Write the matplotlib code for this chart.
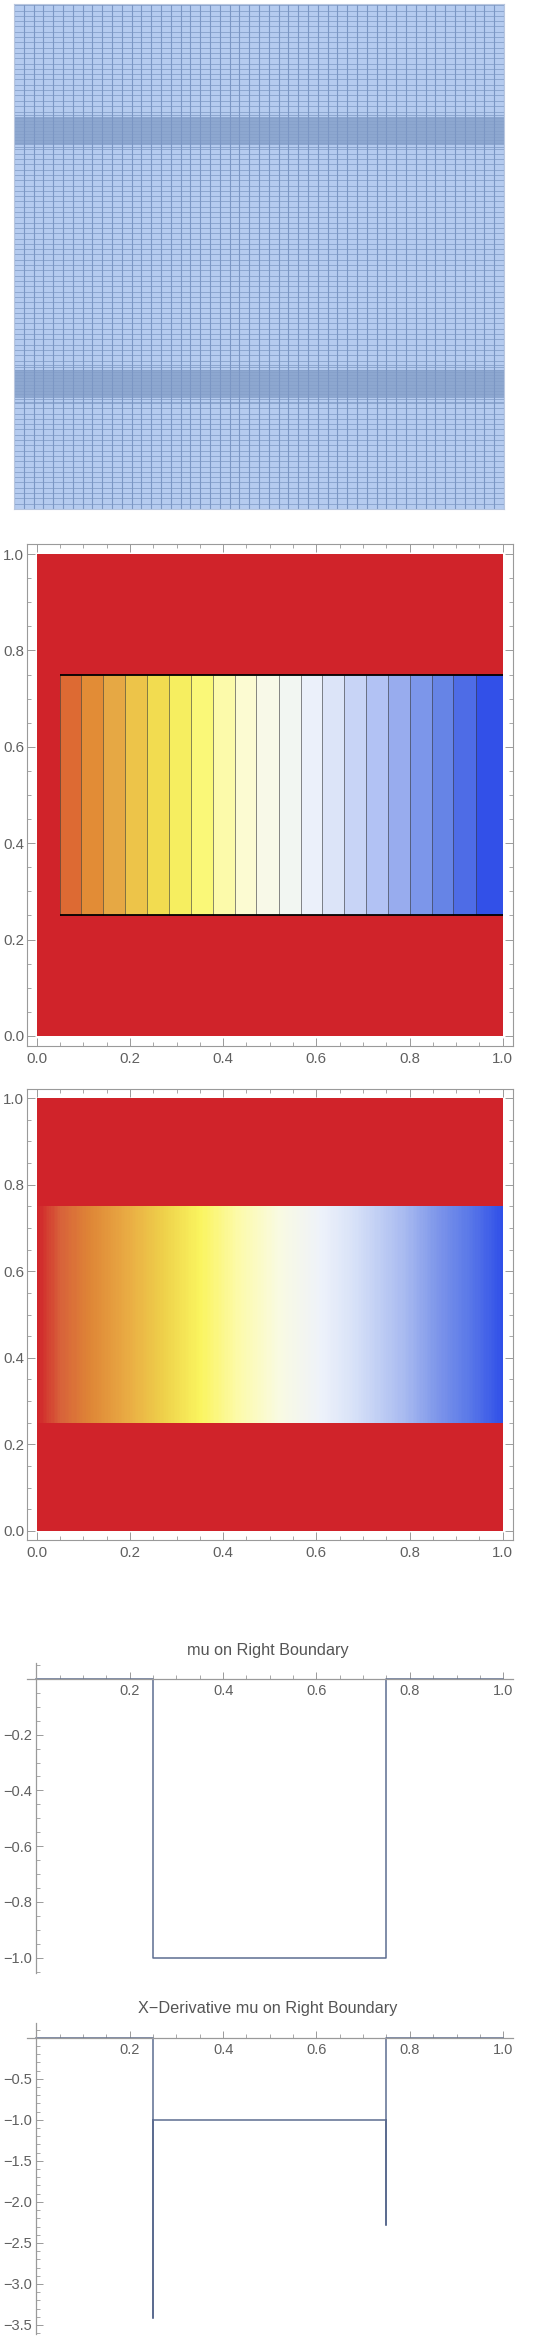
import numpy as np
import matplotlib
matplotlib.use('Agg')
from matplotlib import pyplot as plt
from matplotlib.colors import LinearSegmentedColormap
from matplotlib.ticker import MultipleLocator, FixedLocator, FuncFormatter

plt.rcParams['font.family'] = ['Liberation Sans', 'DejaVu Sans']

# ---- data ----
domain = [0.0, 1.0]
strip_y = [0.25, 0.75]

# mesh description
mesh_cols = 50
mesh_dy_coarse = 0.0105
mesh_dy_grade = 0.005
mesh_dy_band = 0.0015
band_centers = [0.25, 0.75]
band_half = 0.026
grade_half = 0.038

# mu inside the strip, left and right ends
mu_strip_x = [0.0, 1.0]
mu_strip = [0.0, -1.0]

# contour levels (where the band edges sit)
contour_levels = [-0.049, -0.095, -0.143, -0.190, -0.237, -0.284, -0.331, -0.378,
                  -0.426, -0.471, -0.519, -0.566, -0.612, -0.660, -0.707, -0.753,
                  -0.800, -0.848, -0.894, -0.942]
# band colours, from the red (mu near 0) band to the blue (mu near -1) band
band_colors = ['#D0232A', '#DD6A33', '#E28C36', '#E6A844', '#EDC449', '#F2DC50',
               '#F6EE60', '#FAF878', '#FCFAAA', '#FCFBD2', '#F8F9E8', '#F2F6F2',
               '#EBF0FA', '#DCE4F8', '#C8D4F6', '#B2C2F4', '#98ACEE', '#7C96EA',
               '#6684E6', '#4E6CE6', '#3250E8']

# density colour scale (mu value -> colour)
dens_mu = [0.0, -0.05, -0.11, -0.2, -0.27, -0.35, -0.43, -0.52, -0.61, -0.68,
           -0.79, -0.86, -0.93, -1.0]
dens_colors = ['#D0242A', '#D8623A', '#DE8436', '#EAAE44', '#EED04A', '#FAF45E',
               '#FCFAA8', '#F9FAE2', '#EEF2FA', '#D8E2F8', '#A8BAF0', '#7E96EA',
               '#5A78E8', '#3050E8']

# mu on right boundary
rb_y = [0.0, 0.25, 0.25, 0.75, 0.75, 1.0]
rb_mu = [0.0, 0.0, -1.0, -1.0, 0.0, 0.0]

# x-derivative of mu on right boundary
rbd_y = [0.0, 0.25, 0.25, 0.25, 0.75, 0.75, 0.75, 1.0]
rbd_dmu = [0.0, 0.0, -3.41, -1.0, -1.0, -2.28, 0.0, 0.0]

red = band_colors[0]
line_color = '#5d6d91'
frame_color = '#9a9a9a'
label_color = '#606060'

W, H = 540, 2337
fig = plt.figure(figsize=(W / 100, H / 100), dpi=100)


def box(x0, y0, x1, y1):
    return [x0 / W, 1 - y1 / H, (x1 - x0) / W, (y1 - y0) / H]


fmt = FuncFormatter(lambda v, p: ('%.1f' % v).replace('-', '\u2212'))

# ---- panel 1: mesh ----
ax = fig.add_axes(box(14, 4, 504, 509))
ax.set_xlim(domain)
ax.set_ylim(domain)
ax.set_facecolor('#b5cbef')
xs = np.linspace(domain[0], domain[1], mesh_cols + 1)
ys = list(np.arange(domain[0], domain[1], mesh_dy_coarse))
ys = [y for y in ys if min(abs(y - c) for c in band_centers) > grade_half]
for c in band_centers:
    ys += list(np.arange(c - grade_half, c - band_half, mesh_dy_grade))
    ys += list(np.arange(c + band_half, c + grade_half, mesh_dy_grade))
    ys += list(np.arange(c - band_half, c + band_half, mesh_dy_band))
ax.hlines(ys, domain[0], domain[1], color='#86a0cb', lw=0.6)
ax.vlines(xs, domain[0], domain[1], color='#7b96c4', lw=0.8)
ax.set_xticks([])
ax.set_yticks([])
for s in ax.spines.values():
    s.set_color('#b8c6de')
    s.set_linewidth(0.8)


def frame(ax):
    ax.set_xlim(-0.021, 1.022)
    ax.set_ylim(-0.021, 1.021)
    ax.set_xticks([0, 0.2, 0.4, 0.6, 0.8, 1.0])
    ax.set_yticks([0, 0.2, 0.4, 0.6, 0.8, 1.0])
    ax.xaxis.set_minor_locator(MultipleLocator(0.05))
    ax.yaxis.set_minor_locator(MultipleLocator(0.05))
    ax.xaxis.set_major_formatter(fmt)
    ax.yaxis.set_major_formatter(fmt)
    ax.tick_params(which='both', direction='in', top=True, right=True,
                   color=frame_color, labelcolor=label_color, labelsize=10.8)
    ax.tick_params(which='major', length=5.5, width=0.7)
    ax.tick_params(which='minor', length=3, width=0.6)
    ax.tick_params(axis='x', pad=4)
    ax.tick_params(axis='y', pad=2)
    for s in ax.spines.values():
        s.set_color(frame_color)
        s.set_linewidth(0.8)


Xs, Ys = np.meshgrid(mu_strip_x, strip_y)
Z = np.array([mu_strip, mu_strip])

# ---- panel 2: contour plot ----
ax = fig.add_axes(box(27, 544, 513, 1046))
frame(ax)
ax.fill_between(domain, domain[0], domain[1], color=red, lw=0)
lev = [mu_strip[1] - 0.001] + sorted(contour_levels) + [mu_strip[0] + 0.001]
ax.contourf(Xs, Ys, Z, levels=lev, colors=band_colors[::-1], antialiased=False)
ax.contour(Xs, Ys, Z, levels=sorted(contour_levels), colors='#3a3a3a',
           linewidths=0.6, alpha=0.7, linestyles='solid')
ax.hlines(strip_y, -contour_levels[0], domain[1], color='black', lw=1.3)

# ---- panel 3: density plot ----
ax = fig.add_axes(box(27, 1089, 513, 1540))
frame(ax)
cmap = LinearSegmentedColormap.from_list(
    'temp', [(1 + m, c) for m, c in sorted(zip(dens_mu, dens_colors))])
ax.fill_between(domain, domain[0], domain[1], color=red, lw=0)
ax.contourf(Xs, Ys, Z, levels=np.linspace(-1.0005, 0.0005, 300), cmap=cmap,
            antialiased=False)


def axis_style(ax, ylim, ymajor, yminor):
    ax.set_xlim(-0.02, 1.021)
    ax.set_ylim(ylim)
    for side in ['top', 'right']:
        ax.spines[side].set_visible(False)
    for side in ['left', 'bottom']:
        ax.spines[side].set_position(('data', 0))
        ax.spines[side].set_color(frame_color)
        ax.spines[side].set_linewidth(0.9)
    ax.xaxis.set_major_locator(FixedLocator([0.2, 0.4, 0.6, 0.8, 1.0]))
    ax.xaxis.set_minor_locator(MultipleLocator(0.05))
    ax.yaxis.set_major_locator(FixedLocator(ymajor))
    ax.yaxis.set_minor_locator(MultipleLocator(yminor))
    ax.xaxis.set_major_formatter(fmt)
    ax.yaxis.set_major_formatter(fmt)
    ax.tick_params(which='both', direction='in', color=frame_color,
                   labelcolor=label_color, labelsize=10.5)
    ax.tick_params(which='major', length=5, width=0.7)
    ax.tick_params(which='minor', length=3, width=0.6)
    ax.tick_params(axis='x', pad=4)
    ax.tick_params(axis='y', pad=3)
    ax.patch.set_alpha(0)


# ---- panel 4: mu on right boundary ----
ax = fig.add_axes(box(27, 1663, 513, 1973))
axis_style(ax, (-1.055, 0.057), [-0.2, -0.4, -0.6, -0.8, -1.0], 0.05)
ax.plot(rb_y, rb_mu, color=line_color, lw=1.1)
fig.text(268 / W, 1 - 1650 / H, 'mu on Right Boundary', ha='center', va='center',
         fontsize=11.7, color='#555555')

# ---- panel 5: x-derivative ----
ax = fig.add_axes(box(27, 2023, 513, 2334))
axis_style(ax, (-3.61, 0.18), [-0.5, -1.0, -1.5, -2.0, -2.5, -3.0, -3.5], 0.1)
ax.plot(rbd_y, rbd_dmu, color=line_color, lw=1.1)
fig.text(268 / W, 1 - 2009 / H, 'X\u2212Derivative mu on Right Boundary',
         ha='center', va='center', fontsize=11.7, color='#555555')

fig.savefig('out.png', dpi=100)
